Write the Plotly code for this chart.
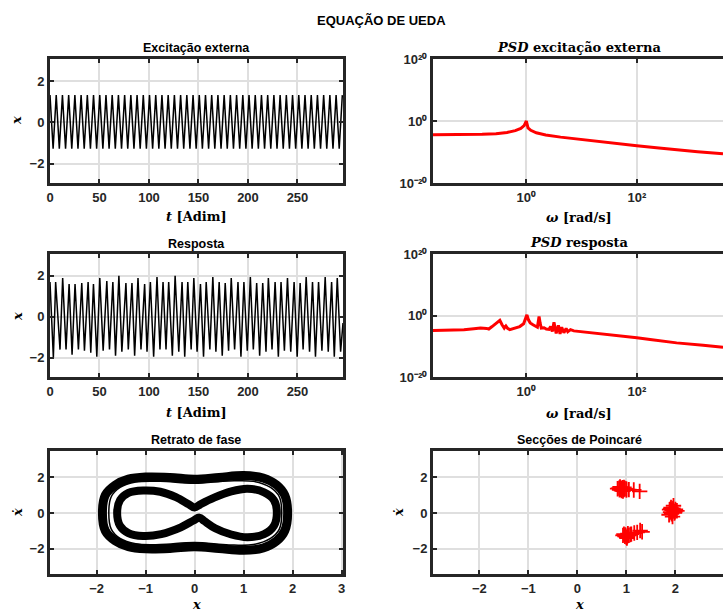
import plotly.graph_objects as go

W, H = 723, 614

# ---------------- data ----------------
# external excitation: extrema times [Adim] and values
exc_t = [0, 3.14, 6.28, 9.42, 12.57, 15.71, 18.85, 21.99, 25.13, 28.27, 31.42, 34.56, 37.70, 40.84,
         43.98, 47.12, 50.27, 53.41, 56.55, 59.69, 62.83, 65.97, 69.12, 72.26, 75.40, 78.54, 81.68,
         84.82, 87.96, 91.11, 94.25, 97.39, 100.53, 103.67, 106.81, 109.96, 113.10, 116.24, 119.38,
         122.52, 125.66, 128.81, 131.95, 135.09, 138.23, 141.37, 144.51, 147.65, 150.80, 153.94,
         157.08, 160.22, 163.36, 166.50, 169.65, 172.79, 175.93, 179.07, 182.21, 185.35, 188.50,
         191.64, 194.78, 197.92, 201.06, 204.20, 207.35, 210.49, 213.63, 216.77, 219.91, 223.05,
         226.19, 229.34, 232.48, 235.62, 238.76, 241.90, 245.04, 248.19, 251.33, 254.47, 257.61,
         260.75, 263.89, 267.04, 270.18, 273.32, 276.46, 279.60, 282.74, 285.88, 289.03, 292.17, 295.31]
exc_x = [1.32, -1.28] * 47 + [1.32]

# response: peaks and troughs
resp_peak_t = [0.0, 5.7, 12.8, 19.3, 25.3, 32.1, 38.5, 43.9, 50.3, 57.4, 63.5, 69.6, 76.7, 82.8, 88.9,
               95.6, 101.4, 108.1, 114.2, 119.9, 126.4, 133.4, 139.2, 145.3, 152.0, 157.8, 164.5,
               170.9, 177.0, 183.1, 189.9, 195.9, 202.4, 208.8, 214.9, 220.6, 227.4, 233.4, 239.9,
               246.6, 252.7, 258.8, 265.2, 271.3, 278.0, 284.5, 290.2]
resp_peak_x = [1.7, 1.7, 1.9, 1.6, 1.6, 1.65, 1.7, 1.6, 1.9, 1.75, 1.7, 2.0, 1.65, 1.65, 1.9, 1.6, 1.7,
               1.95, 1.7, 1.7, 2.0, 1.7, 1.7, 1.9, 1.6, 1.7, 1.95, 1.7, 1.65, 1.9, 1.7, 1.7, 1.95,
               1.65, 1.65, 1.9, 1.7, 1.7, 1.9, 1.7, 1.65, 1.95, 1.7, 1.7, 1.95, 1.7, 1.9]
resp_trough_t = [3.4, 10.1, 16.2, 22.3, 28.7, 34.8, 41.2, 47.3, 53.7, 60.1, 66.2, 72.6, 79.1, 85.5,
                 91.9, 98.0, 104.7, 111.1, 117.2, 123.6, 130.1, 136.1, 142.6, 148.6, 155.1, 161.5,
                 167.6, 174.0, 180.4, 186.5, 192.9, 199.3, 205.4, 211.8, 218.2, 224.3, 230.7, 236.8,
                 243.2, 249.7, 255.7, 262.2, 268.2, 274.7, 281.1, 287.2, 293.6, 296.0]
resp_trough_x = [-2.0, -1.6, -1.6, -1.85, -1.6, -1.65, -1.75, -1.95, -1.65, -1.6, -1.9, -1.7, -1.6,
                 -1.9, -1.6, -1.7, -1.95, -1.6, -1.6, -1.9, -1.7, -1.95, -1.6, -1.7, -1.95, -1.6,
                 -1.7, -1.9, -1.65, -1.6, -1.95, -1.65, -1.6, -1.9, -1.7, -1.6, -1.95, -1.65, -1.7,
                 -1.95, -1.6, -1.7, -1.95, -1.65, -1.7, -1.95, -1.7, -0.3]

# PSD of excitation (log10 omega, log10 PSD)
psd_exc_logw = [-1.69, -1.2, -0.8, -0.55, -0.35, -0.2, -0.1, -0.04, 0.0, 0.03, 0.08, 0.18, 0.35,
                0.62, 1.0, 1.34, 1.7, 2.0, 2.4, 2.72, 3.1, 3.56]
psd_exc_logp = [-4.4, -4.4, -4.3, -4.1, -3.7, -3.1, -2.4, -1.5, 0.0, -2.2, -3.0, -3.8, -4.5,
                -5.2, -6.0, -6.6, -7.3, -8.0, -8.7, -9.3, -9.9, -10.6]

# PSD of response
psd_resp_logw = [-1.69, -1.4, -1.13, -0.95, -0.83, -0.72, -0.68, -0.62, -0.55, -0.48, -0.44, -0.4,
                 -0.37, -0.34, -0.3, -0.22, -0.12, -0.05, -0.02, 0.01, 0.04, 0.07, 0.12, 0.17, 0.2,
                 0.22, 0.23, 0.25, 0.27, 0.32, 0.36, 0.41, 0.44, 0.47, 0.5, 0.54, 0.58, 0.61, 0.64,
                 0.68, 0.72, 0.75, 0.8, 0.86, 0.97, 1.2, 1.39, 2.0, 2.24, 2.72, 3.2, 3.56]
psd_resp_logp = [-4.9, -4.8, -4.6, -4.3, -4.1, -4.2, -4.4, -3.6, -2.6, -1.6, -3.0, -4.1,
                 -3.4, -4.2, -4.6, -4.2, -3.6, -2.7, -1.5, 0.2, -1.5, -2.4, -3.0, -3.5, -3.8,
                 -1.5, -0.3, -2.5, -4.1, -4.0, -4.4, -4.5, -3.6, -5.2, -2.2, -5.8, -3.2, -6.0, -3.8,
                 -5.6, -4.2, -5.3, -4.6, -5.0, -5.2, -5.6, -6.0, -7.2, -7.8, -8.9, -9.7, -10.3]

# phase portrait loops (x, xdot)
outer_x = [-1.88, -1.82, -1.62, -1.35, -1.0, -0.5, 0.0, 0.5, 1.0, 1.4, 1.68, 1.84, 1.90, 1.84, 1.68,
           1.4, 1.0, 0.5, 0.0, -0.5, -1.0, -1.35, -1.62, -1.82, -1.88]
outer_v = [0.0, 1.0, 1.55, 1.88, 2.0, 1.98, 1.88, 1.98, 2.08, 1.95, 1.55, 1.0, 0.0, -1.0, -1.55,
           -1.95, -2.08, -1.98, -1.88, -1.98, -2.0, -1.88, -1.55, -1.0, 0.0]
mid_x = [-1.75, -1.70, -1.52, -1.2, -0.7, 0.0, 0.7, 1.2, 1.55, 1.73, 1.78, 1.73, 1.55, 1.2, 0.7, 0.0,
         -0.7, -1.2, -1.52, -1.70, -1.75]
mid_v = [0.0, 0.9, 1.42, 1.72, 1.76, 1.65, 1.78, 1.76, 1.42, 0.9, 0.0, -0.9, -1.42, -1.76, -1.78,
         -1.65, -1.76, -1.72, -1.42, -0.9, 0.0]
inner_x = [-1.58, -1.52, -1.35, -1.05, -0.70, -0.38, -0.12, 0.0, 0.12, 0.40, 0.75, 1.08, 1.42, 1.62,
           1.68, 1.62, 1.42, 1.08, 0.75, 0.42, 0.20, 0.10, -0.02, -0.28, -0.68, -1.05, -1.35, -1.52,
           -1.58]
inner_v = [0.0, 0.72, 1.12, 1.25, 1.18, 0.88, 0.48, 0.30, 0.48, 0.85, 1.2, 1.35, 1.15, 0.72, 0.0,
           -0.72, -1.18, -1.35, -1.2, -0.85, -0.45, -0.26, -0.42, -0.8, -1.18, -1.28, -1.12, -0.72,
           0.0]

# Poincaré section points
poin_x = [0.85, 0.88, 0.92, 0.95, 0.90, 0.82, 0.97, 0.87, 0.93, 1.00, 0.86, 0.91, 0.95, 0.89,
          1.05, 1.15, 1.27, 1.00,
          1.93, 1.97, 1.90, 2.00, 1.95, 1.88, 1.92, 1.98, 1.91, 2.03, 1.94, 1.87, 1.96, 1.99, 1.90,
          0.98, 1.02, 0.95, 1.05, 1.00, 0.93, 1.08, 1.03, 0.97, 1.01, 1.10,
          1.16, 1.22, 1.32, 1.28]
poin_v = [1.38, 1.32, 1.40, 1.30, 1.25, 1.35, 1.36, 1.45, 1.22, 1.33, 1.29, 1.35, 1.42, 1.37,
          1.30, 1.28, 1.20, 1.28,
          0.15, 0.10, 0.05, 0.20, 0.25, 0.18, -0.05, 0.00, 0.30, 0.12, -0.20, -0.10, 0.40, 0.07, 0.22,
          -1.22, -1.28, -1.18, -1.25, -1.35, -1.25, -1.20, -1.15, -1.30, -1.40, -1.18,
          -1.12, -1.08, -1.05, -0.98]

# tick labels
t_ticks = [0, 50, 100, 150, 200, 250]
x_ticks = [-2, 0, 2]
phase_ticks = [-2, -1, 0, 1, 2, 3]
w_ticks = [1, 100]
w_ticktext = ['10⁰', '10²']
p_ticks = [1e-20, 1, 1e20]
p_ticktext = ['10⁻²⁰', '10⁰', '10²⁰']

# ---------------- build ----------------
resp = sorted(zip(resp_peak_t + resp_trough_t, resp_peak_x + resp_trough_x))
resp_t = [p[0] for p in resp]
resp_x = [p[1] for p in resp]

psd_exc_w = [10 ** v for v in psd_exc_logw]
psd_exc_p = [10 ** v for v in psd_exc_logp]
psd_resp_w = [10 ** v for v in psd_resp_logw]
psd_resp_p = [10 ** v for v in psd_resp_logp]


def px(x):
    return x / W


def py(y):
    return 1 - y / H


AX = '#262626'
GRID = '#dfdfdf'
TICKFONT = dict(family='Liberation Sans', size=13, color=AX, weight='bold')

fig = go.Figure()
fig.add_trace(go.Scatter(x=exc_t, y=exc_x, mode='lines', line=dict(color='black', width=1.5),
                         xaxis='x', yaxis='y'))
fig.add_trace(go.Scatter(x=psd_exc_w, y=psd_exc_p, mode='lines', line=dict(color='#ff0000', width=3),
                         xaxis='x2', yaxis='y2'))
fig.add_trace(go.Scatter(x=resp_t, y=resp_x, mode='lines', line=dict(color='black', width=1.5),
                         xaxis='x3', yaxis='y3'))
fig.add_trace(go.Scatter(x=psd_resp_w, y=psd_resp_p, mode='lines', line=dict(color='#ff0000', width=3),
                         xaxis='x4', yaxis='y4'))
fig.add_trace(go.Scatter(x=outer_x, y=outer_v, mode='lines', line=dict(color='black', width=9, shape='spline'),
                         xaxis='x5', yaxis='y5'))
fig.add_trace(go.Scatter(x=mid_x, y=mid_v, mode='lines', line=dict(color='black', width=1.5, shape='spline'),
                         xaxis='x5', yaxis='y5'))
fig.add_trace(go.Scatter(x=inner_x, y=inner_v, mode='lines', line=dict(color='black', width=8, shape='spline'),
                         xaxis='x5', yaxis='y5'))
fig.add_trace(go.Scatter(x=poin_x, y=poin_v, mode='markers',
                         marker=dict(symbol='cross-thin', size=11, line=dict(color='#ff0000', width=1.8)),
                         xaxis='x6', yaxis='y6'))


def axis(domain, anchor, mirror='ticks', **kw):
    d = dict(domain=domain, anchor=anchor, automargin=False, showgrid=True, gridcolor=GRID, gridwidth=2,
             zeroline=False, showline=True, linecolor=AX, linewidth=3, mirror=mirror, ticks='inside',
             ticklen=4, tickwidth=2, tickcolor=AX, tickfont=TICKFONT)
    d.update(kw)
    return d


LX = [px(50), px(343)]
RX = [px(433), 1.0]
R1 = [py(183), py(59)]
R2 = [py(377), py(254)]
R3 = [py(574), py(451)]

log_xt = dict(type='log', range=[-1.69, 3.56], tickvals=w_ticks, ticktext=w_ticktext)
log_yt = dict(type='log', range=[-20, 20], tickvals=p_ticks, ticktext=p_ticktext)

fig.update_layout(
    template='none',
    width=W, height=H, margin=dict(l=0, r=0, t=0, b=0, autoexpand=False), showlegend=False,
    paper_bgcolor='white', plot_bgcolor='white',
    xaxis=axis(LX, 'y', range=[0, 296], tickvals=t_ticks),
    yaxis=axis(R1, 'x', range=[-2.94, 3.07], tickvals=x_ticks),
    xaxis2=axis(RX, 'y2', **log_xt),
    yaxis2=axis(R1, 'x2', mirror=False, **log_yt),
    xaxis3=axis(LX, 'y3', range=[0, 296], tickvals=t_ticks),
    yaxis3=axis(R2, 'x3', range=[-2.94, 3.07], tickvals=x_ticks),
    xaxis4=axis(RX, 'y4', **log_xt),
    yaxis4=axis(R2, 'x4', mirror=False, **log_yt),
    xaxis5=axis(LX, 'y5', range=[-2.95, 3.03], tickvals=phase_ticks),
    yaxis5=axis(R3, 'x5', range=[-3.4, 3.45], tickvals=x_ticks),
    xaxis6=axis(RX, 'y6', range=[-2.945, 2.97], tickvals=phase_ticks),
    yaxis6=axis(R3, 'x6', mirror=False, range=[-3.4, 3.45], tickvals=x_ticks),
)

SANS = 'Liberation Sans'
SERIF = 'DejaVu Serif'
ann = []


def text(x, y, s, family=SANS, size=13, angle=0):
    ann.append(dict(x=px(x), y=py(y), xref='paper', yref='paper', text=s, showarrow=False,
                    xanchor='center', yanchor='middle', textangle=angle,
                    font=dict(family=family, size=size, color='black')))


text(381, 20, '<b>EQUAÇÃO DE UEDA</b>', size=13)
text(196, 48, '<b>Excitação externa</b>', size=12.5)
text(579, 47, '<b><i>PSD</i> excitação externa</b>', family=SERIF, size=13)
text(196, 217, '<b><i>t</i> [Adim]</b>', family=SERIF, size=13)
text(579, 218, '<b><i>ω</i> [rad/s]</b>', family=SERIF, size=13)
text(196, 244, '<b>Resposta</b>', size=12.5)
text(579, 243, '<b><i>PSD</i> resposta</b>', family=SERIF, size=13)
text(196, 412, '<b><i>t</i> [Adim]</b>', family=SERIF, size=13)
text(579, 413, '<b><i>ω</i> [rad/s]</b>', family=SERIF, size=13)
text(196, 440, '<b>Retrato de fase</b>', size=12.5)
text(579, 440, '<b>Secções de Poincaré</b>', size=12.5)
text(196, 604, '<b><i>x</i></b>', family=SERIF, size=13)
text(579, 604, '<b><i>x</i></b>', family=SERIF, size=13)
text(17, 121, '<b><i>x</i></b>', family=SERIF, size=13, angle=-90)
text(17, 317, '<b><i>x</i></b>', family=SERIF, size=13, angle=-90)
text(17, 513, '<b><i>ẋ</i></b>', family=SERIF, size=13, angle=-90)
text(398, 513, '<b><i>ẋ</i></b>', family=SERIF, size=13, angle=-90)

fig.update_layout(annotations=ann)
fig.write_html('out.html')
